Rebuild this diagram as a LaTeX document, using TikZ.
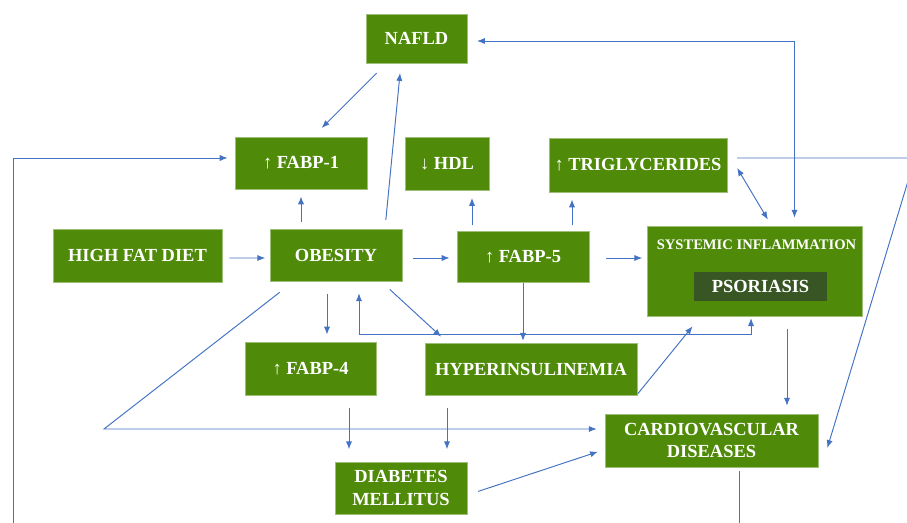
\documentclass[tikz,border=0pt]{standalone}
\usepackage{fontspec}
\setmainfont{Liberation Serif}
\usepackage{tikz}
\usetikzlibrary{arrows.meta, positioning, calc}
\definecolor{boxgreen}{RGB}{79,139,8}
\definecolor{darkgreen}{RGB}{56,86,35}
\definecolor{lineblue}{RGB}{68,114,196}

\begin{document}
\begin{tikzpicture}[x=0.02cm, y=-0.02cm,
    >={Latex[length=4.5pt,width=3.5pt]},
    box/.style={draw=boxgreen!55!white, line width=0.4pt, fill=boxgreen, text=white,
      font=\bfseries\fontsize{10.5}{12.7}\selectfont, align=center, inner sep=0pt},
    arr/.style={draw=lineblue, line width=0.55pt, ->, shorten <=4pt, shorten >=4pt}]
  % Frame
  \useasboundingbox (0,0) rectangle (907,523);
  \clip (0,0) rectangle (907,523);

  % Boxes
  \node[box, minimum width=2.02cm, minimum height=0.98cm] (nafld) at (416.5,38.5) {NAFLD};
  \node[box, minimum width=2.64cm, minimum height=1.04cm] (fabp1) at (301,163) {↑ FABP-1};
  \node[box, minimum width=1.68cm, minimum height=1.06cm] (hdl) at (447,164) {↓ HDL};
  \node[box, minimum width=3.56cm, minimum height=1.08cm] (trig) at (638,165) {↑ TRIGLYCERIDES};
  \node[box, minimum width=3.38cm, minimum height=1.06cm] (highfat) at (137.5,255.5) {HIGH FAT DIET};
  \node[box, minimum width=2.64cm, minimum height=1.04cm] (obesity) at (336,255) {OBESITY};
  \node[box, minimum width=2.64cm, minimum height=1.02cm] (fabp5) at (523,256.5) {↑ FABP-5};
  \node[box, minimum width=4.30cm, minimum height=1.80cm] (sysinf) at (754.5,271) {};
  \node[text=white, font=\bfseries\fontsize{8.3}{10}\selectfont, inner sep=0pt] (systxt) at (756.5,245) {SYSTEMIC INFLAMMATION};
  \node[box, fill=darkgreen, draw=none, minimum width=2.66cm, minimum height=0.58cm] (psor) at (760.5,286.5) {PSORIASIS};
  \node[box, minimum width=2.62cm, minimum height=1.06cm] (fabp4) at (310.5,368.5) {↑ FABP-4};
  \node[box, minimum width=4.24cm, minimum height=1.04cm] (hyper) at (531,369) {HYPERINSULINEMIA};
  \node[box, minimum width=2.64cm, minimum height=1.04cm] (diab) at (401,488) {DIABETES\\MELLITUS};
  \node[box, minimum width=4.26cm, minimum height=1.06cm] (cvd) at (711.5,440.5) {CARDIOVASCULAR\\DISEASES};

  % Bends outside the frame
  \coordinate (rbend) at (915,158);
  \coordinate (lbend) at (104,429);
  \coordinate (bbend) at (13,545);

  % Upper connectors
  \draw[arr, shorten <=8pt, shorten >=7pt] ($(nafld.south)+(-30,0)$) -- ($(fabp1.north)+(12,0)$);
  \draw[arr, shorten <=5pt, shorten >=5.5pt] ($(obesity.north)+(49,0)$) -- ($(nafld.south)+(-15.5,0)$);
  \draw[arr] (obesity.north -| fabp1) -- (fabp1.south);
  \draw[arr, shorten >=2.5pt] ($(highfat.east)+(0,2.5)$) -- ($(obesity.west)+(0,3)$);
  \draw[arr, shorten <=6pt] ($(obesity.east)+(0,3)$) coordinate (h) -- (h -| fabp5.west);
  \draw[arr, shorten <=3pt] ($(fabp5.north)+(-51,0)$) coordinate (a) -- (a |- hdl.south);
  \draw[arr, shorten <=3pt] ($(fabp5.north)+(49,0)$) coordinate (b) -- (b |- trig.south);
  \draw[arr, shorten <=9.5pt, shorten >=2.5pt] ($(fabp5.east)+(0,1.5)$) coordinate (k) -- (k -| sysinf.west);
  \draw[arr, <->, shorten <=2pt, shorten >=4pt] ($(trig.east)+(8,0)$) -- ($(sysinf.north)+(17,0)$);
  \draw[arr, <->, shorten <=4.5pt, shorten >=5.5pt] ($(sysinf.north)+(40,0)$) |- ($(nafld.east)+(0,2.5)$);
  \draw[arr, shorten <=5.5pt, shorten >=0pt] ($(trig.east)+(0,-7)$) -- (rbend) -- ($(cvd.east)+(9,7.5)$);

  % Lower connectors
  \draw[arr, shorten <=7pt] ($(obesity.south)+(-9,0)$) coordinate (c) -- (c |- fabp4.north);
  \draw[arr, shorten <=6.8pt, shorten >=5pt] ($(obesity.south)+(45,0)$) -- ($(hyper.north west)+(23,0)$);
  \draw[arr, shorten <=0.5pt, shorten >=1pt] (fabp5.south) -- (fabp5.south |- hyper.north);
  \draw[arr, <->, shorten <=6.8pt, shorten >=1pt] ($(obesity.south)+(23,0)$) -- ++(0,53) -| ($(sysinf.south)+(-3.5,0)$);
  \draw[arr, shorten <=0.5pt, shorten >=7.3pt] ($(hyper.south east)+(0,-1)$) -- ($(sysinf.south west)+(54,0)$);
  \draw[arr, shorten <=0pt, shorten >=4.5pt] ($(obesity.south west)+(10,11)$) -- (lbend) -- (lbend -| cvd.west);
  \draw[arr, shorten <=7pt, shorten >=7pt] ($(fabp4.south)+(38.5,0)$) coordinate (d) -- (d |- diab.north);
  \draw[arr, shorten <=7pt, shorten >=7pt] ($(hyper.south)+(-84,0)$) coordinate (e) -- (e |- diab.north);
  \draw[arr, shorten <=6.5pt, shorten >=4pt] ($(diab.east)+(0,7)$) -- ($(cvd.west)+(0,9)$);
  \draw[arr, shorten <=7pt, shorten >=4.5pt] ($(sysinf.south)+(32.5,0)$) coordinate (f) -- (f |- cvd.north);
  \draw[arr, shorten <=2.3pt] ($(cvd.south)+(27.5,0)$) coordinate (g) -- (g |- bbend) -- (bbend) |- ($(fabp1.west)+(0,-5)$);
\end{tikzpicture}
\end{document}
